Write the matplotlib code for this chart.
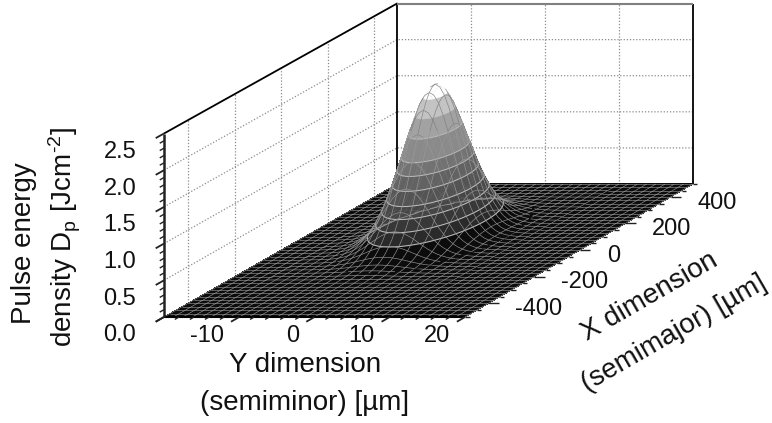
import matplotlib
matplotlib.use('Agg')
import matplotlib.pyplot as plt
from matplotlib.colors import to_rgba
from matplotlib.transforms import Affine2D
from mpl_toolkits.mplot3d.art3d import Line3DCollection, Poly3DCollection
import numpy as np

plt.rcParams['font.family'] = ['Liberation Sans', 'DejaVu Sans']
plt.rcParams['mathtext.default'] = 'regular'

# values
peak = 2.10
y_grid = np.linspace(-20, 20, 65)
x_grid = np.linspace(-500, 500, 81)
y_profile = [0, 0, 0, 0, 0, 0, 0, 0, 0, .001, .002, .004, .008, .014, .024, .040, .065, .100, .149, .212, .294,
             .392, .503, .621, .738, .843, .927, .981, 1,
             .981, .927, .843, .738, .621, .503, .392, .294, .212, .149, .100, .065, .040, .024, .014, .008, .004,
             .002, .001, 0, 0, 0, 0, 0, 0, 0, 0, 0, 0, 0, 0, 0, 0, 0, 0, 0]
x_profile = [0, 0, 0, 0, 0, 0, 0, 0, 0, 0, 0, 0, 0, 0, 0, 0, 0, 0, 0, 0,
             .001, .002, .003, .005, .007, .011, .016, .022, .032, .044, .061, .083, .110, .143, .184, .233, .288,
             .350, .421, .499, .575, .657, .733, .805, .871, .925, .966, .991, 1,
             .991, .966, .925, .871, .805, .733, .657, .575, .499, .421, .350, .288, .233, .184, .143, .110, .083,
             .061, .044, .032, .022, .016, .011, .007, .005, .003, .002, .001, 0, 0, 0, 0]
levels = [0.22, 0.37, 0.52, 0.68, 0.85, 1.03, 1.2, 1.49, 1.73, 1.95]
greys = ['#0c0c0c', '#2a2a2a', '#383838', '#464646', '#545454', '#626262', '#727272', '#8a8a8a', '#a2a2a2', '#c4c4c4', '#ffffff']
y_ticks = [-20, -10, 0, 10, 20]
y_labels = ['', '-10', '0', '10', '20']
x_ticks = [-400, -200, 0, 200, 400]
z_ticks = [0.0, 0.5, 1.0, 1.5, 2.0, 2.5]

W, H = 772, 423
fig = plt.figure(figsize=(W/100, H/100), dpi=100)
ax = fig.add_axes([0, 0, 1, 1], projection='3d', computed_zorder=False)
ax.set_axis_off()

# oblique view of the box, output in pixels
k = 0.0169
a = 239.7
b = -129.9
M = np.array([[301/40, a/1000, 0, 164 + 150.5 + a*0.5],
              [0, b/1000, -183.5/2.5, 317 + b*0.5],
              [-0.775/40, 1/1000, -0.73/2.5, 0],
              [0, k/1000, 0, 1 + k*0.5]])
ax.get_proj = lambda: M
ax.apply_aspect = lambda position=None: None
ax.transData = Affine2D().scale(1, -1).translate(0, H)

def line(ys, xs, zs, color='black', lw=1.3, ls='-', zorder=2):
    seg = np.column_stack([ys, xs, zs])
    ax.add_collection3d(Line3DCollection([seg], colors=color, linewidths=lw, linestyles=ls, zorder=zorder))

Yg, Xg = np.meshgrid(y_grid, x_grid)
Z = peak*np.outer(x_profile, y_profile)
cell = (Z[:-1, :-1] + Z[1:, :-1] + Z[:-1, 1:] + Z[1:, 1:])/4
rgba = np.array([to_rgba(g) for g in greys])
ax.plot_surface(Yg, Xg, Z, facecolors=rgba[np.digitize(cell, levels)], rstride=1, cstride=1, shade=False,
                linewidth=0, antialiased=False, zorder=3)

# which grid cells face the viewer
sx = (M[0, 0]*Yg + M[0, 1]*Xg + M[0, 3])/(M[3, 1]*Xg + M[3, 3])
sy = (M[1, 1]*Xg + M[1, 2]*Z + M[1, 3])/(M[3, 1]*Xg + M[3, 3])
d1x, d1y = sx[:-1, 1:] - sx[:-1, :-1], sy[:-1, 1:] - sy[:-1, :-1]
d2x, d2y = sx[1:, :-1] - sx[:-1, :-1], sy[1:, :-1] - sy[:-1, :-1]
front = d1x*d2y - d1y*d2x < 0
nr, nc = Z.shape

def faces(i, j):
    return 0 <= i < nr - 1 and 0 <= j < nc - 1 and front[i, j]

# mesh lines on every second grid row, split in floor, front of the hill and back of the hill
floor_segs, hill_segs, hill_cols, back_segs = [], [], [], []

def add_seg(i, j, i2, j2, vis):
    seg = [(Yg[i, j], Xg[i, j], Z[i, j]), (Yg[i2, j2], Xg[i2, j2], Z[i2, j2])]
    zm = (Z[i, j] + Z[i2, j2])/2
    if zm < 0.02:
        floor_segs.append(seg)
    elif vis:
        hill_segs.append(seg)
        hill_cols.append('#808080' if zm > 1.5 else '#989898')
    else:
        back_segs.append(seg)

for i in range(0, nr, 2):
    for j in range(nc - 1):
        add_seg(i, j, i, j + 1, faces(i, j) or faces(i - 1, j))
for j in range(0, nc, 2):
    for i in range(nr - 1):
        add_seg(i, j, i + 1, j, faces(i, j) or faces(i, j - 1))
ax.add_collection3d(Line3DCollection(floor_segs, colors='#a8a8a8', linewidths=0.4, zorder=3.001))

# grey bands: thin contour slices painted from the bottom up, light outline where a band starts
slices = np.arange(0.02, peak, 0.015)
tmp = plt.figure()
cs = tmp.add_subplot().contour(Yg, Xg, Z, levels=slices)
segs = cs.allsegs
plt.close(tmp)
bands = np.digitize(slices, levels)
for i, (z, loops) in enumerate(zip(slices, segs)):
    verts = [np.column_stack([s[:, 0], s[:, 1], np.full(len(s), z)]) for s in loops]
    g = greys[bands[i]]
    starts = i > 0 and bands[i] != bands[i - 1] and z < 1.6
    ax.add_collection3d(Poly3DCollection(verts, facecolors=g, edgecolors='#b8b8b8' if starts else g,
                                         linewidths=0.8 if starts else 0.3, zorder=3.01 + i*0.001))
ax.add_collection3d(Line3DCollection(back_segs, colors='#b0b0b0', linewidths=0.3, alpha=0.25, zorder=3.5))
ax.add_collection3d(Line3DCollection(hill_segs, colors=hill_cols, linewidths=0.45, zorder=3.6))

# walls
dots = dict(color='#8c8c8c', lw=0.9, ls=(0, (1, 1.5)), zorder=1)
for t in z_ticks[1:-1]:
    line([-20, -20, 20], [-500, 500, 500], [t, t, t], **dots)
for t in x_ticks:
    line([-20, -20], [t, t], [0, 2.5], **dots)
for t in y_ticks[1:-1]:
    line([t, t], [500, 500], [0, 2.5], **dots)
line([-20, -20, -20], [-500, 500, 500], [2.5, 2.5, 0])
line([20, 20], [500, 500], [0, 2.5])
line([-20, 20], [500, 500], [2.5, 2.5], color='#808080', lw=1.5)
line([-20, 20], [500, 500], [0, 0])
line([-20, 20], [-500, -500], [0, 0], lw=1.5, zorder=4)
line([-20, -20], [-500, -500], [0, 2.5], color='#222222', lw=1.8, zorder=4)

# ticks
for t in np.arange(-20, 21, 2):
    major = t in y_ticks
    line([t, t], [-500, -535 if major else -518], [0, 0], '#222222', 1.3 if major else 1.0, zorder=4)
for t in np.arange(-500, 501, 50):
    major = t in x_ticks
    line([20, 21.4 if major else 20.6], [t, t], [0, 0], '#222222', 1.0, zorder=4)
for t in np.arange(0, 2.51, 0.1):
    major = min(abs(t - z) for z in z_ticks) < 0.01
    line([-20, -20], [-500, -535 if major else -518], [t, t], '#222222', 1.3 if major else 1.0, zorder=4)

# tick labels
fs = 17
for t, s in zip(y_ticks, y_labels):
    ax.text(t - 2.0, -500, -0.26, s, ha='right', va='center', fontsize=fs, color='#111111')
for t in x_ticks:
    ax.text(23.6, t, -0.08, '%d' % t, ha='left', va='center', fontsize=fs, color='#111111')
for t in z_ticks:
    ax.text(-23.7, -500, t - 0.25, '%.1f' % t, ha='right', va='center', fontsize=fs, color='#111111')

def label(x, y, s, **kw):
    fig.text(x/W, 1 - y/H, s, ha='center', va='center', fontsize=20, color='#111111', **kw)

label(24, 243, 'Pulse energy', rotation=90)
label(65, 237, 'density D$_{p}$ [Jcm$^{\u20102}$]', rotation=90)
label(305, 365, 'Y dimension')
label(305, 403, '(semiminor) [µm]')
label(650, 297, 'X dimension', rotation=30, rotation_mode='anchor')
label(674, 333, '(semimajor) [µm]', rotation=30, rotation_mode='anchor')

plt.savefig('out.png', dpi=100)
